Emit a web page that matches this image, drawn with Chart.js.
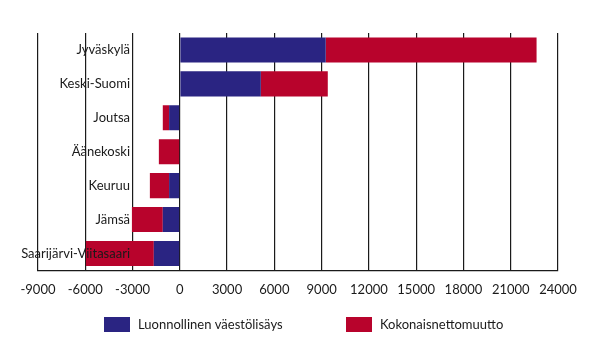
<!DOCTYPE html>
<html>
<head>
<meta charset="utf-8">
<script src="https://cdn.jsdelivr.net/npm/chart.js@4/dist/chart.umd.min.js"></script>
<style>
  html, body { margin: 0; padding: 0; background: #ffffff; }
  #wrap { width: 604px; height: 345px; }
</style>
</head>
<body>
<div id="wrap"><canvas id="chart" width="604" height="345"></canvas></div>
<script>
// Alueet ylhäältä alas
const alueet = ['Jyväskylä', 'Keski-Suomi', 'Joutsa', 'Äänekoski', 'Keuruu', 'Jämsä', 'Saarijärvi-Viitasaari'];
// Luonnollinen väestölisäys
const luonnollinen = [9260, 5140, -680, 0, -680, -1080, -1650];
// Kokonaisnettomuutto (pinottu edellisen päälle)
const nettomuutto = [13380, 4250, -400, -1330, -1220, -1960, -4310];
// x-akselin rajat ja väli
const xMin = -9000;
const xMax = 24000;
const xStep = 3000;

const sininen = '#2a2482';
const punainen = '#b8032c';
const fontti = 'Lato, "DejaVu Sans", sans-serif';

// Aluenimet piirretään kuvaajan sisälle, oikealle tasattuina
const alueNimet = {
    id: 'alueNimet',
    afterDatasetsDraw(chart) {
        const ctx = chart.ctx;
        const y = chart.scales.y;
        ctx.save();
        ctx.font = '13px ' + fontti;
        ctx.fillStyle = '#1a1a1a';
        ctx.textAlign = 'right';
        ctx.textBaseline = 'middle';
        alueet.forEach((nimi, i) => {
            ctx.fillText(nimi, 130, y.getPixelForValue(i));
        });
        ctx.restore();
    }
};

// Selite alas keskelle
const selite = {
    id: 'selite',
    afterDraw(chart) {
        const ctx = chart.ctx;
        const paikat = [104, 346];
        ctx.save();
        ctx.font = '13px ' + fontti;
        ctx.textBaseline = 'middle';
        chart.data.datasets.forEach((ds, i) => {
            const x = paikat[i];
            ctx.fillStyle = ds.backgroundColor;
            ctx.fillRect(x, 317, 26, 15);
            ctx.fillStyle = '#1a1a1a';
            ctx.fillText(ds.label, x + 34, 325);
        });
        ctx.restore();
    }
};

new Chart(document.getElementById('chart'), {
    type: 'bar',
    data: {
        labels: alueet,
        datasets: [
            { label: 'Luonnollinen väestölisäys', data: luonnollinen, backgroundColor: sininen },
            { label: 'Kokonaisnettomuutto', data: nettomuutto, backgroundColor: punainen }
        ]
    },
    options: {
        indexAxis: 'y',
        responsive: false,
        animation: false,
        barPercentage: 0.74,
        categoryPercentage: 1,
        layout: { padding: { left: 38, right: 46, top: 33, bottom: 35 } },
        plugins: {
            legend: { display: false },
            tooltip: { enabled: false }
        },
        scales: {
            x: {
                stacked: true,
                min: xMin,
                max: xMax,
                ticks: {
                    stepSize: xStep,
                    color: '#1a1a1a',
                    padding: 12,
                    maxRotation: 0,
                    font: { family: fontti, size: 13 },
                    callback: (v) => String(v)
                },
                grid: { color: '#1a1a1a', lineWidth: 1.2, drawTicks: false },
                border: { display: true, color: '#1a1a1a', width: 1.2 }
            },
            y: {
                stacked: true,
                display: false
            }
        }
    },
    plugins: [alueNimet, selite]
});
</script>
</body>
</html>
